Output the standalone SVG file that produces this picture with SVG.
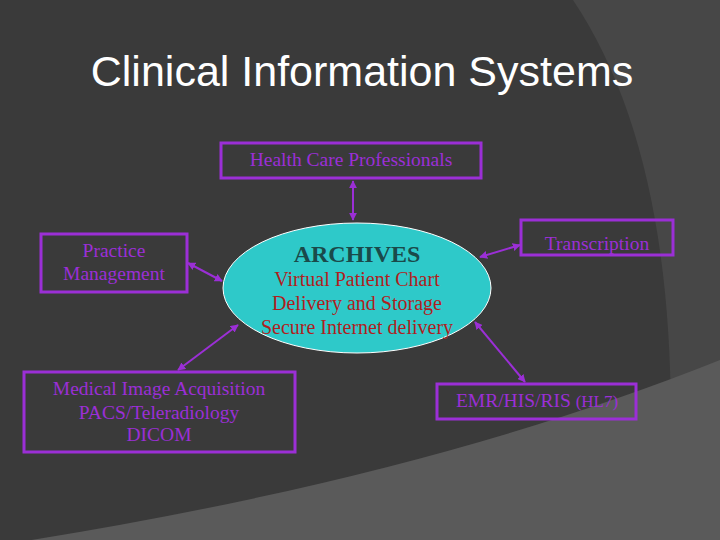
<svg xmlns="http://www.w3.org/2000/svg" width="720" height="540" viewBox="0 0 720 540">
<defs>
<marker id="ah" viewBox="0 0 10 10" refX="9" refY="5" markerWidth="4" markerHeight="4" orient="auto-start-reverse"><path d="M0,0 L10,5 L0,10 z" fill="#9b2fd6"/></marker>
<style>
.box{fill:none;stroke:#9b2fd6;stroke-width:3}
.lbl{font-family:"Liberation Serif",serif;font-size:19.5px;fill:#9b2fd6;text-anchor:middle}
.red{font-family:"Liberation Serif",serif;font-size:20px;fill:#b01e1e;text-anchor:middle}
.c{stroke:#9b2fd6;stroke-width:2;marker-start:url(#ah);marker-end:url(#ah);fill:none}
</style>
</defs>
<rect width="720" height="540" fill="#3a3a3a"/>
<path d="M573,0 Q680,160 670,470 L720,540 L720,0 Z" fill="#474747"/>
<path d="M720,360 Q420,480 0,545 L720,545 Z" fill="#5a5a5a"/>
<text x="362" y="86" font-family="Liberation Sans,Arial,sans-serif" font-size="43" fill="#ffffff" text-anchor="middle">Clinical Information Systems</text>
<g id="connectors">
<line class="c" x1="353" y1="181" x2="353" y2="220"/>
<line class="c" x1="188" y1="263" x2="222" y2="281"/>
<line class="c" x1="480" y1="257" x2="520" y2="245"/>
<line class="c" x1="178" y1="370" x2="238" y2="325"/>
<line class="c" x1="475" y1="322" x2="525" y2="382"/>
</g>
<g id="archives">
<ellipse cx="357" cy="288" rx="134" ry="65" fill="#2ec9c9" stroke="#ffffff" stroke-width="1"/>
<text x="357" y="262" font-family="Liberation Serif,serif" font-size="24" font-weight="bold" fill="#1a4a4a" text-anchor="middle">ARCHIVES</text>
<text class="red" x="357" y="286">Virtual Patient Chart</text>
<text class="red" x="357" y="310">Delivery and Storage</text>
<text class="red" x="357" y="334">Secure Internet delivery</text>
</g>
<g id="hcp"><rect class="box" x="221" y="143" width="260" height="35"/><text class="lbl" x="351" y="166">Health Care Professionals</text></g>
<g id="practice"><rect class="box" x="41" y="234" width="146" height="58"/><text class="lbl" x="114" y="257">Practice</text><text class="lbl" x="114" y="280">Management</text></g>
<g id="transcription"><rect class="box" x="521" y="220" width="152" height="35"/><text class="lbl" x="597" y="250">Transcription</text></g>
<g id="medical"><rect class="box" x="24" y="372" width="271" height="80"/><text class="lbl" x="159" y="395">Medical Image Acquisition</text><text class="lbl" x="159" y="419">PACS/Teleradiology</text><text class="lbl" x="159" y="441" font-size="17">DICOM</text></g>
<g id="emr"><rect class="box" x="437" y="384" width="199" height="35"/><text class="lbl" x="537" y="407">EMR/HIS/RIS <tspan font-size="17">(HL7)</tspan></text></g>
</svg>
